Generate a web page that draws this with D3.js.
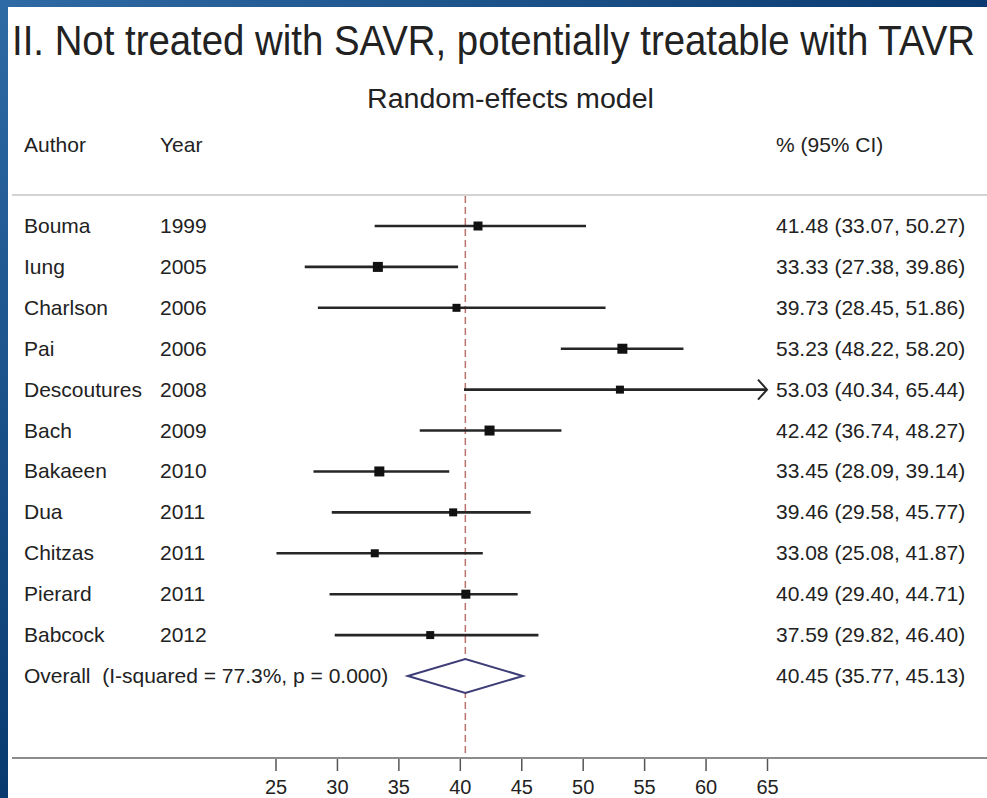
<!DOCTYPE html>
<html>
<head>
<meta charset="utf-8">
<script src="https://cdn.jsdelivr.net/npm/d3@7"></script>
<style>
  html, body { margin: 0; padding: 0; background: #fff; }
  svg { display: block; }
  text { font-family: "Liberation Sans", Arial, "Helvetica", sans-serif; fill: #222; white-space: pre; }
</style>
</head>
<body>
<svg id="chart" width="987" height="798"></svg>
<script>
// ---- data ----
const authors = ["Bouma", "Iung", "Charlson", "Pai", "Descoutures", "Bach", "Bakaeen", "Dua", "Chitzas", "Pierard", "Babcock"];
const years   = ["1999", "2005", "2006", "2006", "2008", "2009", "2010", "2011", "2011", "2011", "2012"];
const estimates = [41.48, 33.33, 39.73, 53.23, 53.03, 42.42, 33.45, 39.46, 33.08, 40.49, 37.59];
const lowerCI   = [33.07, 27.38, 28.45, 48.22, 40.34, 36.74, 28.09, 29.58, 25.08, 29.40, 29.82];
const upperCI   = [50.27, 39.86, 51.86, 58.20, 65.44, 48.27, 39.14, 45.77, 41.87, 44.71, 46.40];
const weights   = [9, 10, 8, 10, 8, 10, 10, 8, 8, 9, 8];
const overallLabel = "Overall  (I-squared = 77.3%, p = 0.000)";
const overallEst = 40.45, overallLo = 35.77, overallHi = 45.13;
const tickValues = [25, 30, 35, 40, 45, 50, 55, 60, 65];
const titleText = "II. Not treated with SAVR, potentially treatable with TAVR";
const subtitleText = "Random-effects model";
const headers = ["Author", "Year", "% (95% CI)"];

const svg = d3.select("#chart");
const W = 987, H = 798;

// ---- blue frame background ----
const defs = svg.append("defs");
const gLeft = defs.append("linearGradient").attr("id", "gLeft")
  .attr("x1", 0).attr("y1", 0).attr("x2", 0).attr("y2", 1);
gLeft.append("stop").attr("offset", "0%").attr("stop-color", "#2e6aa5");
gLeft.append("stop").attr("offset", "100%").attr("stop-color", "#083a6f");
const gTop = defs.append("linearGradient").attr("id", "gTop")
  .attr("x1", 0).attr("y1", 0).attr("x2", 1).attr("y2", 0);
gTop.append("stop").attr("offset", "0%").attr("stop-color", "#2f6aa4");
gTop.append("stop").attr("offset", "100%").attr("stop-color", "#0a3a70");

svg.append("rect").attr("x", 0).attr("y", 0).attr("width", W).attr("height", 7).attr("fill", "url(#gTop)");
svg.append("rect").attr("x", 0).attr("y", 0).attr("width", 8).attr("height", H).attr("fill", "url(#gLeft)");
svg.append("rect").attr("x", 8).attr("y", 7).attr("width", W - 8).attr("height", H - 7).attr("fill", "#fff");

// ---- scales ----
const x = d3.scaleLinear().domain([25, 65]).range([275.5, 767]);
const y = d3.scaleLinear().domain([0, 11]).range([226, 676]);

// ---- titles (horizontally condensed like the original) ----
function condensedText(txt, x0, y0, fs, targetW) {
  const gg = svg.append("g");
  const t = gg.append("text").attr("x", 0).attr("y", 0).attr("font-size", fs).text(txt);
  const natural = t.node().getComputedTextLength();
  const sx = targetW / natural;
  gg.attr("transform", `translate(${x0},${y0}) scale(${sx},1)`);
  return gg;
}
condensedText(titleText, 12, 55, 42, 963);
condensedText(subtitleText, 367, 108, 28, 287);

// ---- headers ----
const FS = 21;
const colX = [24, 160, 776];
svg.selectAll("text.hdr").data(headers).join("text").attr("class", "hdr")
  .attr("x", (d, i) => colX[i]).attr("y", 152).attr("font-size", FS).text(d => d);

// header separator
svg.append("line").attr("x1", 12).attr("x2", W).attr("y1", 195).attr("y2", 195)
  .attr("stroke", "#d3d3d3").attr("stroke-width", 2);

// ---- reference dashed line ----
svg.append("line").attr("x1", x(overallEst)).attr("x2", x(overallEst))
  .attr("y1", 196).attr("y2", 758)
  .attr("stroke", "#b9736c").attr("stroke-width", 1.5).attr("stroke-dasharray", "7,4");

// ---- study rows ----
const rows = authors.map((a, i) => ({
  author: a, year: years[i], est: estimates[i], lo: lowerCI[i], hi: upperCI[i], w: weights[i], i
}));
const [dMin, dMax] = x.domain();

const g = svg.append("g");
const row = g.selectAll("g.row").data(rows).join("g").attr("class", "row");

row.append("line")
  .attr("x1", d => x(Math.max(d.lo, dMin)))
  .attr("x2", d => x(Math.min(d.hi, dMax)))
  .attr("y1", d => y(d.i)).attr("y2", d => y(d.i))
  .attr("stroke", "#262626").attr("stroke-width", 2.6);

// arrow heads for truncated CIs
row.filter(d => d.hi > dMax).append("path")
  .attr("d", d => {
    const tx = x(dMax), ty = y(d.i);
    return `M${tx - 9},${ty - 10} L${tx},${ty} L${tx - 9},${ty + 10}`;
  })
  .attr("fill", "none").attr("stroke", "#262626").attr("stroke-width", 2);

row.append("rect")
  .attr("x", d => x(d.est) - d.w / 2).attr("y", d => y(d.i) - d.w / 2)
  .attr("width", d => d.w).attr("height", d => d.w)
  .attr("fill", "#111");

row.append("text").attr("x", colX[0]).attr("y", d => y(d.i) + 7)
  .attr("font-size", FS).text(d => d.author);
row.append("text").attr("x", colX[1]).attr("y", d => y(d.i) + 7)
  .attr("font-size", FS).text(d => d.year);
row.append("text").attr("x", colX[2]).attr("y", d => y(d.i) + 7)
  .attr("font-size", FS)
  .text(d => `${d.est.toFixed(2)} (${d.lo.toFixed(2)}, ${d.hi.toFixed(2)})`);

// ---- overall ----
const yo = y(11);
svg.append("path")
  .attr("d", `M${x(overallLo)},${yo} L${x(overallEst)},${yo - 17} L${x(overallHi)},${yo} L${x(overallEst)},${yo + 17} Z`)
  .attr("fill", "#fff").attr("stroke", "#3d3d78").attr("stroke-width", 2);
svg.append("text").attr("x", colX[0]).attr("y", yo + 7).attr("font-size", FS).text(overallLabel);
svg.append("text").attr("x", colX[2]).attr("y", yo + 7).attr("font-size", FS)
  .text(`${overallEst.toFixed(2)} (${overallLo.toFixed(2)}, ${overallHi.toFixed(2)})`);

// ---- axis ----
svg.append("line").attr("x1", 12).attr("x2", W).attr("y1", 758).attr("y2", 758)
  .attr("stroke", "#8c8c8c").attr("stroke-width", 2);
const axis = d3.axisBottom(x).tickValues(tickValues).tickSize(12).tickPadding(9).tickFormat(d3.format("d"));
const ag = svg.append("g").attr("transform", "translate(0,759)").call(axis);
ag.select(".domain").remove();
ag.selectAll(".tick line").attr("stroke", "#555").attr("stroke-width", 1.5);
ag.selectAll(".tick text").attr("font-size", 20).attr("fill", "#333")
  .attr("font-family", "'Liberation Sans', Arial, sans-serif");
</script>
</body>
</html>
